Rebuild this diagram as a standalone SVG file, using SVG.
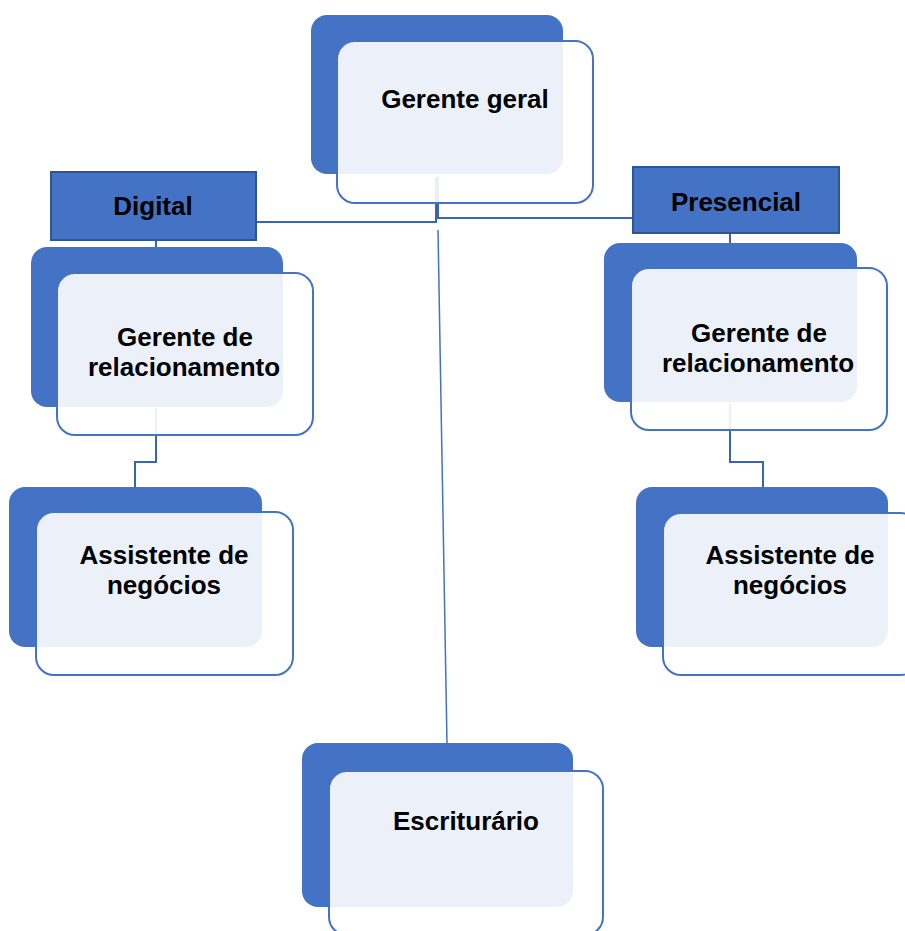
<svg xmlns="http://www.w3.org/2000/svg" width="905" height="931" viewBox="0 0 905 931">
<style>
.back{fill:#4472C4;}
.front{fill:#FFFFFF;fill-opacity:0.9;stroke:#4472C4;stroke-width:2;}
.lbl{fill:#4472C4;stroke:#2F5597;stroke-width:2;}
.t{font-family:"Liberation Sans",Arial,sans-serif;font-weight:bold;font-size:26px;fill:#000;text-anchor:middle;}
.c{fill:none;stroke:#3A64B0;stroke-width:2;}
.c1{fill:none;stroke:#4472C4;stroke-width:1.5;}
</style>
<rect width="905" height="931" fill="#fff"/>
<g id="connectors">
<polyline class="c" points="436,177 436,222 256,222"/>
<polyline class="c" points="438,177 438,218 633,218"/>
<line class="c1" x1="438" y1="230" x2="447" y2="744"/>
<line class="c" x1="156" y1="240" x2="156" y2="247"/>
<polyline class="c" points="156,408 156,462 135,462 135,487"/>
<line class="c" x1="730" y1="234" x2="730" y2="243"/>
<polyline class="c" points="730,403 730,462 763,462 763,487"/>
</g>
<g id="gerente-geral">
<rect class="back" x="311" y="15" width="252" height="159" rx="16"/>
<rect class="front" x="337" y="41" width="256" height="162" rx="18"/>
<text class="t" x="465" y="108">Gerente geral</text>
</g>
<g id="digital">
<rect class="lbl" x="51" y="172" width="205" height="68"/>
<text class="t" x="153" y="215">Digital</text>
</g>
<g id="presencial">
<rect class="lbl" x="633" y="167" width="206" height="66"/>
<text class="t" x="736" y="211">Presencial</text>
</g>
<g id="gerente-rel-digital">
<rect class="back" x="31" y="247" width="252" height="160" rx="16"/>
<rect class="front" x="57" y="273" width="256" height="162" rx="18"/>
<text class="t" x="185" y="346">Gerente de</text>
<text class="t" x="184" y="376">relacionamento</text>
</g>
<g id="gerente-rel-presencial">
<rect class="back" x="604" y="243" width="253" height="159" rx="16"/>
<rect class="front" x="631" y="268" width="256" height="162" rx="18"/>
<text class="t" x="759" y="342">Gerente de</text>
<text class="t" x="758" y="372">relacionamento</text>
</g>
<g id="assistente-digital">
<rect class="back" x="9" y="487" width="253" height="160" rx="16"/>
<rect class="front" x="36" y="512" width="257" height="163" rx="18"/>
<text class="t" x="164" y="564">Assistente de</text>
<text class="t" x="164" y="594">negócios</text>
</g>
<g id="assistente-presencial">
<rect class="back" x="636" y="487" width="252" height="160" rx="16"/>
<rect class="front" x="663" y="513" width="256" height="162" rx="18"/>
<text class="t" x="790" y="564">Assistente de</text>
<text class="t" x="790" y="594">negócios</text>
</g>
<g id="escriturario">
<rect class="back" x="302" y="743" width="271" height="164" rx="16"/>
<rect class="front" x="329" y="771" width="274" height="164" rx="18"/>
<text class="t" x="466" y="830">Escriturário</text>
</g>
</svg>
